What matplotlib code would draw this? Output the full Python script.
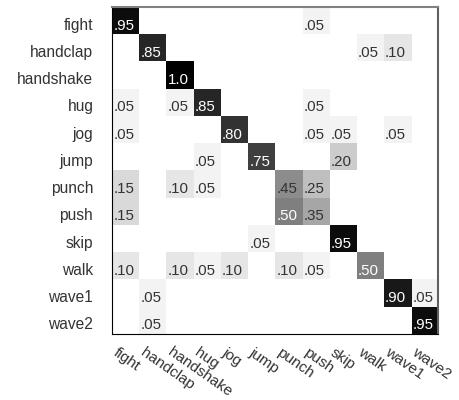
import numpy as np
import matplotlib
matplotlib.use("Agg")
import matplotlib.pyplot as plt
from matplotlib.transforms import ScaledTranslation

plt.rcParams['font.family'] = ['Liberation Sans', 'DejaVu Sans']

actions = ["fight", "handclap", "handshake", "hug", "jog", "jump",
           "punch", "push", "skip", "walk", "wave1", "wave2"]

# rows = true class, columns = predicted class
fight     = [.95, 0, 0, 0, 0, 0, 0, .05, 0, 0, 0, 0]
handclap  = [0, .85, 0, 0, 0, 0, 0, 0, 0, .05, .10, 0]
handshake = [0, 0, 1.0, 0, 0, 0, 0, 0, 0, 0, 0, 0]
hug       = [.05, 0, .05, .85, 0, 0, 0, .05, 0, 0, 0, 0]
jog       = [.05, 0, 0, 0, .80, 0, 0, .05, .05, 0, .05, 0]
jump      = [0, 0, 0, .05, 0, .75, 0, 0, .20, 0, 0, 0]
punch     = [.15, 0, .10, .05, 0, 0, .45, .25, 0, 0, 0, 0]
push      = [.15, 0, 0, 0, 0, 0, .50, .35, 0, 0, 0, 0]
skip      = [0, 0, 0, 0, 0, .05, 0, 0, .95, 0, 0, 0]
walk      = [.10, 0, .10, .05, .10, 0, .10, .05, 0, .50, 0, 0]
wave1     = [0, .05, 0, 0, 0, 0, 0, 0, 0, 0, .90, .05]
wave2     = [0, .05, 0, 0, 0, 0, 0, 0, 0, 0, 0, .95]

conf = np.array([fight, handclap, handshake, hug, jog, jump,
                 punch, push, skip, walk, wave1, wave2])


def fmt(v):
    if v >= 1.0:
        return "1.0"
    return ("%.2f" % v)[1:]


fig = plt.figure(figsize=(4.6, 4.0), dpi=100)
ax = fig.add_axes([0.2435, 0.165, 0.7087, 0.8175])
ax.imshow(conf, cmap='gray_r', vmin=0, vmax=1, aspect='auto',
          interpolation='nearest')

n = len(actions)
for i in range(n):
    for j in range(n):
        v = conf[i, j]
        if v <= 0:
            continue
        ax.text(j - 0.45, i + 0.33, fmt(v), ha='left', va='baseline',
                fontsize=10.8, color='white' if v >= 0.5 else '#333333')

ax.set_xticks(range(n))
ax.set_yticks(range(n))
ax.set_yticklabels(actions, fontsize=11.2, color='#333333', va='baseline')
ax.set_xticklabels(actions, fontsize=11, color='#333333', rotation=-35,
                   ha='left', va='top', rotation_mode='anchor')
ax.tick_params(length=0)
ax.tick_params(axis='y', pad=13.5)
ax.tick_params(axis='x', pad=8)

down = ScaledTranslation(0, -9 / 100, fig.dpi_scale_trans)
for lab in ax.get_yticklabels():
    lab.set_transform(lab.get_transform() + down)
left = ScaledTranslation(-7 / 100, 0, fig.dpi_scale_trans)
for lab in ax.get_xticklabels():
    lab.set_transform(lab.get_transform() + left)

ax.spines['left'].set_color('black')
ax.spines['bottom'].set_color('black')
ax.spines['top'].set_color('#808080')
ax.spines['right'].set_color('#606060')
ax.spines['top'].set_linewidth(1.5)
ax.spines['right'].set_linewidth(1.5)

fig.savefig("out.png", dpi=100)
